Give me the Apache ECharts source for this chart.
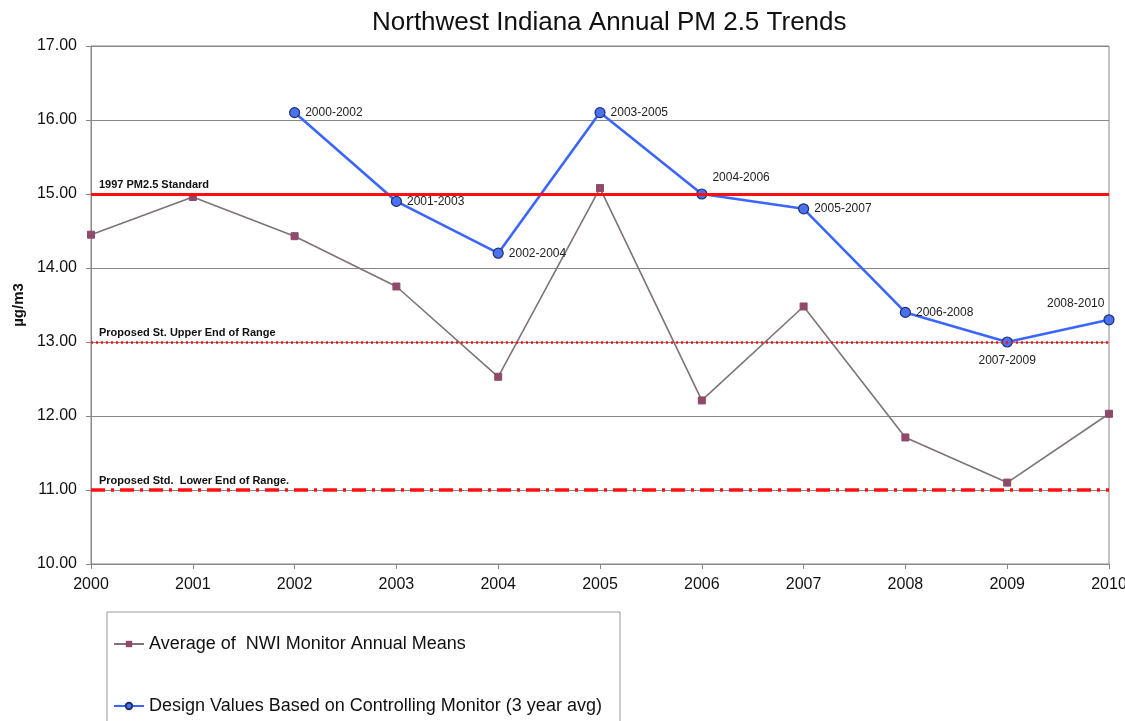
<!DOCTYPE html>
<html>
<head>
<meta charset="utf-8">
<script src="https://cdn.jsdelivr.net/npm/echarts@6/dist/echarts.min.js"></script>
<style>
  html, body { margin: 0; padding: 0; background: #fff; }
  #chart { width: 1125px; height: 721px; }
</style>
</head>
<body>
<div id="chart"></div>
<script>
// Annual PM2.5 data, Northwest Indiana
const years = [2000, 2001, 2002, 2003, 2004, 2005, 2006, 2007, 2008, 2009, 2010];
const annualMeans = [14.45, 14.96, 14.43, 13.75, 12.53, 15.08, 12.21, 13.48, 11.71, 11.10, 12.03];

const designYears = [2002, 2003, 2004, 2005, 2006, 2007, 2008, 2009, 2010];
const designValues = [16.1, 14.9, 14.2, 16.1, 15.0, 14.8, 13.4, 13.0, 13.3];
const designPeriods = ['2000-2002', '2001-2003', '2002-2004', '2003-2005', '2004-2006',
                       '2005-2007', '2006-2008', '2007-2009', '2008-2010'];

const standardLines = [
  { value: 15, name: '1997 PM2.5 Standard' },
  { value: 13, name: 'Proposed St. Upper End of Range' },
  { value: 11, name: 'Proposed Std.  Lower End of Range.' }
];

const yTicks = [10, 11, 12, 13, 14, 15, 16, 17];

const FONT = '"Liberation Sans", Arial, sans-serif';

// label placement for each design-value period
const labelPlacement = {
  '2004-2006': { position: 'right', offset: [0, -16] },
  '2007-2009': { position: 'bottom', offset: [0, 2] },
  '2008-2010': { position: 'left', offset: [6, -16] }
};

const chart = echarts.init(document.getElementById('chart'));

const lineStyles = [
  { type: 'solid', width: 3 },
  { type: [2, 3], width: 2.5 },
  { type: [14, 6, 3, 6], width: 3.5 }
];

chart.setOption({
  animation: false,
  title: {
    text: 'Northwest Indiana Annual PM 2.5 Trends',
    left: 367,
    top: 5,
    textStyle: { fontFamily: FONT, fontSize: 26, fontWeight: 'normal', color: '#111' }
  },
  grid: {
    left: 91, right: 16, top: 46, bottom: 157,
    outerBoundsMode: 'none',
    containLabel: false,
    show: true, borderColor: '#888', borderWidth: 1
  },
  legend: {
    orient: 'vertical',
    left: 108,
    top: 630,
    itemGap: 44,
    itemWidth: 30,
    itemHeight: 8,
    textStyle: { fontFamily: FONT, fontSize: 18, color: '#111' },
    data: ['Average of  NWI Monitor Annual Means', 'Design Values Based on Controlling Monitor (3 year avg)']
  },
  graphic: [{
    type: 'rect',
    shape: { x: 107, y: 612, width: 513, height: 120 },
    style: { fill: 'none', stroke: '#999', lineWidth: 1 },
    silent: true,
    z: -1
  }],
  xAxis: {
    type: 'value',
    min: 2000, max: 2010, interval: 1,
    axisLine: { show: true, lineStyle: { color: '#888' } },
    axisTick: { show: true, inside: false, length: 5, lineStyle: { color: '#888' } },
    splitLine: { show: false },
    axisLabel: {
      fontFamily: FONT, fontSize: 16, color: '#111', margin: 13,
      formatter: v => String(v)
    }
  },
  yAxis: {
    type: 'value',
    min: yTicks[0], max: yTicks[yTicks.length - 1], interval: 1,
    name: 'µg/m3',
    nameLocation: 'middle',
    nameGap: 62,
    nameTextStyle: { fontFamily: FONT, fontSize: 15, fontWeight: 'bold', color: '#111' },
    axisLine: { show: true, lineStyle: { color: '#888' } },
    axisTick: { show: true, inside: false, length: 5, lineStyle: { color: '#888' } },
    splitLine: { show: true, lineStyle: { color: '#888', width: 1 } },
    axisLabel: {
      fontFamily: FONT, fontSize: 16, color: '#111', margin: 14,
      formatter: v => v.toFixed(2)
    }
  },
  series: [
    {
      name: 'Average of  NWI Monitor Annual Means',
      type: 'line',
      data: years.map((y, i) => [y, annualMeans[i]]),
      symbol: 'rect',
      symbolSize: 7,
      itemStyle: { color: '#8e4a68', borderColor: '#8e4a68' },
      lineStyle: { color: '#7d7378', width: 1.6 },
      z: 3,
      markLine: {
        silent: true,
        symbol: 'none',
        animation: false,
        data: standardLines.map((s, i) => ({
          yAxis: s.value,
          lineStyle: Object.assign({ color: '#ff1010' }, lineStyles[i]),
          label: {
            show: true,
            formatter: s.name,
            position: 'insideStartTop',
            distance: [8, 4],
            fontFamily: FONT,
            fontSize: 11,
            fontWeight: 'bold',
            color: '#111'
          }
        }))
      }
    },
    {
      name: 'Design Values Based on Controlling Monitor (3 year avg)',
      type: 'line',
      data: designYears.map((y, i) => {
        const p = labelPlacement[designPeriods[i]] || { position: 'right', offset: [0, 0] };
        return {
          value: [y, designValues[i]],
          label: { position: p.position, offset: p.offset }
        };
      }),
      symbol: 'circle',
      symbolSize: 10,
      itemStyle: { color: '#4a72f0', borderColor: '#1f2f70', borderWidth: 1.2 },
      lineStyle: { color: '#3a66ff', width: 2.6 },
      z: 4,
      label: {
        show: true,
        formatter: p => designPeriods[p.dataIndex],
        fontFamily: FONT,
        fontSize: 12,
        color: '#222',
        distance: 5
      }
    }
  ]
});
</script>
</body>
</html>
